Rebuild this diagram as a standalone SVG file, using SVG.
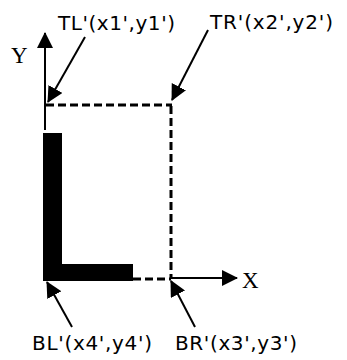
<svg xmlns="http://www.w3.org/2000/svg" width="347" height="360" viewBox="0 0 347 360">
<style>
.lbl{font-family:"DejaVu Sans",Verdana,sans-serif;font-size:20px;fill:#000}
.ax{font-family:"Liberation Serif","Times New Roman",serif;font-size:23px;fill:#000}
.ln{stroke:#000;stroke-width:2;fill:none}
.dash{stroke:#000;stroke-width:3;fill:none;stroke-dasharray:8 4}
</style>
<defs>
<marker id="big" markerWidth="16" markerHeight="16" refX="15" refY="8" orient="auto" markerUnits="userSpaceOnUse" viewBox="0 0 16 16">
<path d="M0,0 L16,8 L0,16 Z" fill="#000"/>
</marker>
</defs>
<rect width="347" height="360" fill="#fff"/>
<g id="axes">
<line class="ln" x1="45" y1="130" x2="45" y2="33" marker-end="url(#big)"/>
<text class="ax" x="11" y="63">Y</text>
<line class="ln" x1="171" y1="278" x2="237" y2="278" marker-end="url(#big)"/>
<text class="ax" x="242" y="288">X</text>
</g>
<g id="box">
<line class="dash" x1="46" y1="105" x2="172" y2="105"/>
<line class="dash" x1="171" y1="106" x2="171" y2="279"/>
<line class="dash" x1="133" y1="279" x2="171" y2="279"/>
</g>
<g id="shape">
<path d="M43,133 H62 V264 H133 V281 H43 Z" fill="#000"/>
</g>
<g id="connectors">
<line class="ln" x1="85" y1="37" x2="48" y2="102" marker-end="url(#big)"/>
<line class="ln" x1="208" y1="30" x2="172" y2="100" marker-end="url(#big)"/>
<line class="ln" x1="72" y1="327" x2="47" y2="282" marker-end="url(#big)"/>
<line class="ln" x1="195" y1="327" x2="171" y2="281" marker-end="url(#big)"/>
</g>
<g id="TL"><text class="lbl" x="58" y="30" textLength="117">TL'(x1',y1')</text></g>
<g id="TR"><text class="lbl" x="210" y="29" textLength="123">TR'(x2',y2')</text></g>
<g id="BL"><text class="lbl" x="32" y="350" textLength="120">BL'(x4',y4')</text></g>
<g id="BR"><text class="lbl" x="175" y="350" textLength="122">BR'(x3',y3')</text></g>
</svg>
